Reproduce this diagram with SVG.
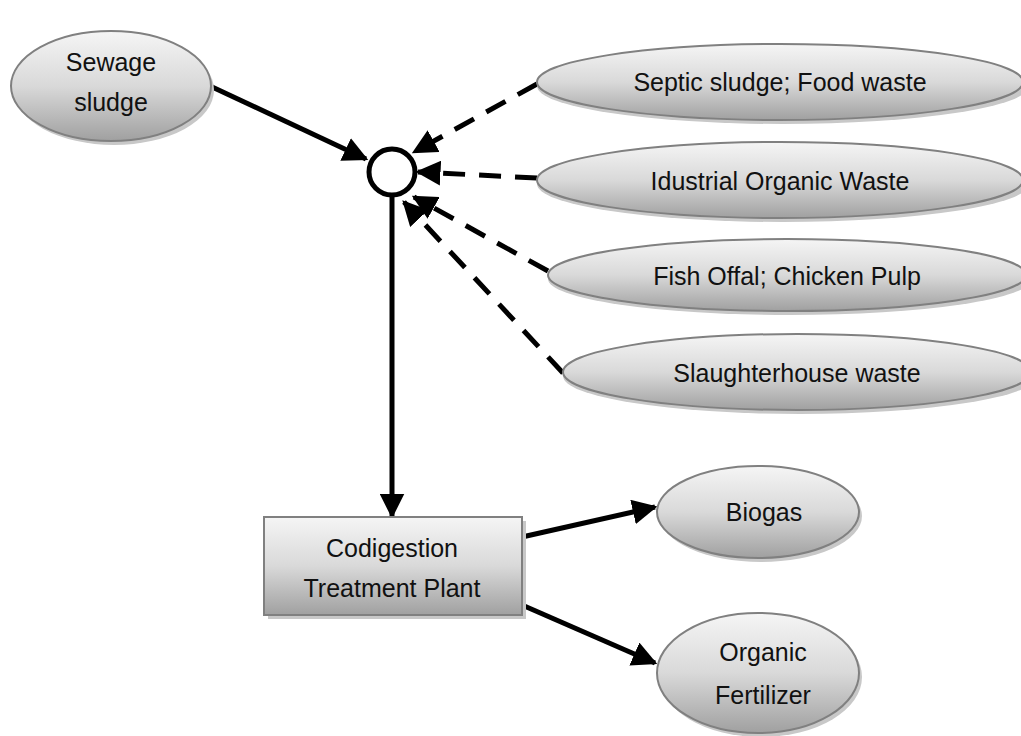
<svg xmlns="http://www.w3.org/2000/svg" width="1021" height="736" viewBox="0 0 1021 736">
<style>
.n{stroke:#808080;stroke-width:2;fill:url(#g)}
.sh{fill:#c8c8c8;stroke:none}
.t{font-family:"Liberation Sans",Arial,sans-serif;font-size:25px;fill:#111;text-anchor:middle}
.c{stroke:#000;stroke-width:5;fill:none}
.d{stroke:#000;stroke-width:5;fill:none;stroke-dasharray:22,14}
</style>
<defs>
<linearGradient id="g" x1="0" y1="0" x2="0" y2="1">
<stop offset="0" stop-color="#f5f5f5"/>
<stop offset="0.5" stop-color="#d9d9d9"/>
<stop offset="1" stop-color="#a0a0a0"/>
</linearGradient>
<marker id="a" viewBox="0 0 10 10" refX="9" refY="5" markerWidth="5" markerHeight="5" orient="auto" markerUnits="strokeWidth">
<path d="M0,0 L10,5 L0,10 z" fill="#000"/>
</marker>
</defs>
<rect width="1021" height="736" fill="#fff"/>
<g id="connectors">
<line class="c" x1="210" y1="86" x2="366" y2="159" marker-end="url(#a)"/>
<line class="c" x1="392" y1="197" x2="392" y2="516" marker-end="url(#a)"/>
<line class="c" x1="522" y1="537" x2="655" y2="507" marker-end="url(#a)"/>
<line class="c" x1="522" y1="605" x2="655" y2="663" marker-end="url(#a)"/>
<line class="d" x1="537" y1="84" x2="414" y2="152" marker-end="url(#a)"/>
<line class="d" x1="537" y1="178" x2="418" y2="172" marker-end="url(#a)"/>
<line class="d" x1="548" y1="271" x2="414" y2="197" marker-end="url(#a)"/>
<line class="d" x1="563" y1="373" x2="404" y2="202" marker-end="url(#a)"/>
</g>
<g id="hub"><circle cx="392" cy="172" r="23" fill="#fff" stroke="#000" stroke-width="5"/></g>
<g id="sewage">
<ellipse class="sh" cx="114" cy="90" rx="100" ry="55"/>
<ellipse class="n" cx="111" cy="86" rx="100" ry="55"/>
<text class="t" x="111" y="71">Sewage</text>
<text class="t" x="111" y="111">sludge</text>
</g>
<g id="septic">
<ellipse class="sh" cx="783" cy="86" rx="246" ry="38"/>
<ellipse class="n" cx="780" cy="82" rx="243" ry="38"/>
<text class="t" x="780" y="91">Septic sludge; Food waste</text>
</g>
<g id="industrial">
<ellipse class="sh" cx="783" cy="184" rx="246" ry="38"/>
<ellipse class="n" cx="780" cy="180" rx="243" ry="38"/>
<text class="t" x="780" y="190">Idustrial Organic Waste</text>
</g>
<g id="fish">
<ellipse class="sh" cx="790" cy="279" rx="242" ry="36"/>
<ellipse class="n" cx="787" cy="275" rx="239" ry="36"/>
<text class="t" x="787" y="285">Fish Offal; Chicken Pulp</text>
</g>
<g id="slaughter">
<ellipse class="sh" cx="800" cy="376" rx="237" ry="38"/>
<ellipse class="n" cx="797" cy="372" rx="234" ry="38"/>
<text class="t" x="797" y="382">Slaughterhouse waste</text>
</g>
<g id="plant">
<rect class="sh" x="268" y="521" width="258" height="98"/>
<rect class="n" x="264" y="517" width="258" height="98"/>
<text class="t" x="392" y="557">Codigestion</text>
<text class="t" x="392" y="597">Treatment Plant</text>
</g>
<g id="biogas">
<ellipse class="sh" cx="761" cy="516" rx="101" ry="46"/>
<ellipse class="n" cx="758" cy="512" rx="101" ry="46"/>
<text class="t" x="764" y="521">Biogas</text>
</g>
<g id="fertilizer">
<ellipse class="sh" cx="761" cy="677" rx="101" ry="60"/>
<ellipse class="n" cx="758" cy="673" rx="101" ry="60"/>
<text class="t" x="763" y="661">Organic</text>
<text class="t" x="763" y="704">Fertilizer</text>
</g>
</svg>
